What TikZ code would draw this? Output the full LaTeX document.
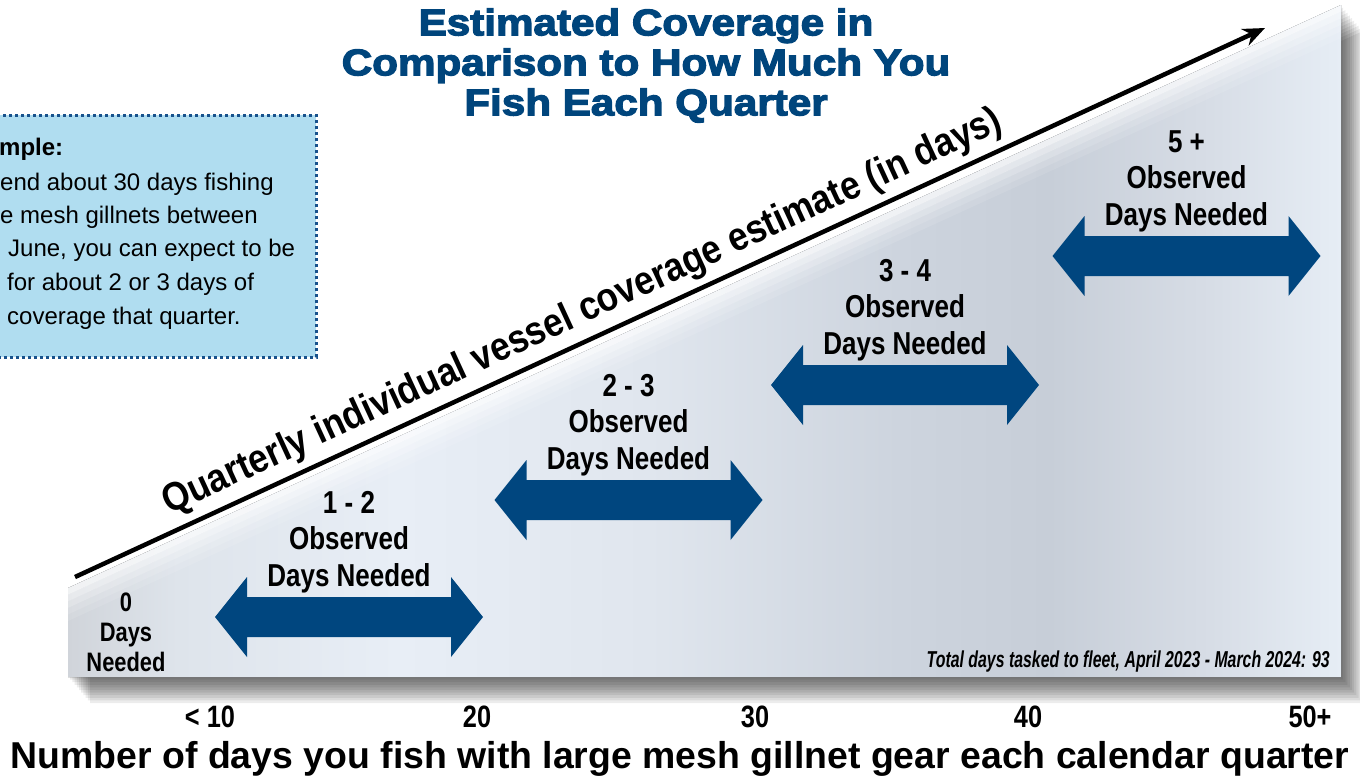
\documentclass[tikz,border=0pt]{standalone}
\usepackage{fontspec}
\setmainfont{Liberation Sans}
\newfontfamily\narrowfont[FakeStretch=0.82]{Liberation Sans}
\newfontfamily\slimfont[FakeStretch=0.69]{Liberation Sans}
\newfontfamily\diagfont[FakeStretch=0.88]{Liberation Sans}
\newfontfamily\titlefont[FakeStretch=1.14,FakeBold=3.5]{Liberation Sans}
\usetikzlibrary{arrows.meta}
\definecolor{navy}{RGB}{0,70,127}
\definecolor{titleblue}{RGB}{0,69,124}
\definecolor{boxfill}{RGB}{176,221,240}
\definecolor{boxline}{RGB}{24,82,140}
\definecolor{g0}{RGB}{208,212,218}
\definecolor{g1}{RGB}{222,228,235}
\definecolor{g2}{RGB}{232,238,246}
\definecolor{g3}{RGB}{224,230,238}
\definecolor{g4}{RGB}{205,212,222}
\definecolor{g5}{RGB}{199,206,216}
\definecolor{g6}{RGB}{214,220,229}
\definecolor{g7}{RGB}{230,237,245}
\pgfdeclarehorizontalshading{bgshade}{100bp}{color(0bp)=(g0); color(25bp)=(g0); color(29.3bp)=(g1); color(38bp)=(g2); color(47.8bp)=(g3); color(57.6bp)=(g4); color(63.5bp)=(g5); color(69.5bp)=(g6); color(75bp)=(g7); color(100bp)=(g7)}
\tikzset{
  lbl/.style={font=\narrowfont\bfseries\fontsize{31.7}{36.5}\selectfont, align=center, inner sep=0pt},
  axislbl/.style={font=\narrowfont\bfseries\fontsize{30.9}{34}\selectfont, inner sep=0pt, anchor=base},
  boxtxt/.style={font=\fontsize{24}{28}\selectfont, inner sep=0pt, anchor=base west},
  exbox/.style={draw=boxline, fill=boxfill, line width=3pt, dash pattern=on 3pt off 3pt, inner sep=0pt},
  pics/dbl/.style={code={\fill[navy] (-134,0) -- (-102,-40) -- (-102,-20) -- (102,-20) -- (102,-40) -- (134,0) -- (102,40) -- (102,20) -- (-102,20) -- (-102,40) -- cycle;}}
}
\begin{document}
\begin{tikzpicture}[x=1pt,y=-1pt]
\useasboundingbox (0,0) rectangle (1360,780);
% shadow
\foreach \i in {1,...,10} {
  \fill[black, opacity=0.075] ({68+2.2*\i},{588+2.6*\i}) -- ({1341+2.2*\i},{5+2.6*\i}) -- ({1341+2.2*\i},{677+2.6*\i}) -- ({68+2.2*\i},{677+2.6*\i}) -- cycle;
}
% background wedge
\fill[shading=bgshade] (68,588) -- (1341,5) -- (1341,677) -- (68,677) -- cycle;
\begin{scope}
  \clip (68,588) -- (1341,5) -- (1341,677) -- (68,677) -- cycle;
  \foreach \d/\o in {3/0.7,9/0.5,15/0.35,21/0.2,27/0.1} {
    \draw[white, line width=6pt, opacity=\o] ({68+0.416*\d-40},{588+0.909*\d+18.3}) -- ({1341+0.416*\d+40},{5+0.909*\d-18.3});
  }
\end{scope}
% title
\node[font=\titlefont\bfseries\fontsize{37}{40}\selectfont, text=titleblue, align=center, inner sep=0pt] (title) at (646,65.5) {Estimated Coverage in\\Comparison to How Much You\\Fish Each Quarter};
% example box
\node[exbox, minimum width=330pt, minimum height=242pt] (box) at (151,236) {};
\node[boxtxt, font=\bfseries\fontsize{24}{28}\selectfont] (b0) at (-1,155) {mple:};
\node[boxtxt] (b1) at (0,190.7) {end about 30 days fishing};
\node[boxtxt] (b2) at (0,223.5) {e mesh gillnets between};
\node[boxtxt] (b3) at (8,256.7) {June, you can expect to be};
\node[boxtxt] (b4) at (7,290.5) {for about 2 or 3 days of};
\node[boxtxt] (b5) at (7,324) {coverage that quarter.};
% main diagonal arrow
\coordinate (as) at (75,577);
\coordinate (ae) at (1265,28);
\draw[line width=4.5pt, -{Stealth[length=22pt,width=18pt]}] (as) -- (ae);
\node[font=\diagfont\bfseries\fontsize{40}{42}\selectfont, rotate=24.77, anchor=base, inner sep=0pt] (qtext) at (587,322) {Quarterly individual vessel coverage estimate (in days)};
% double arrows and labels
\pic (a1) at (349,617) {dbl};
\pic (a2) at (628.5,500) {dbl};
\pic (a3) at (905,385) {dbl};
\pic (a4) at (1186.5,256) {dbl};
\node[lbl] (l1) at (349,542) {1 - 2\\Observed\\Days Needed};
\node[lbl] (l2) at (628.5,425) {2 - 3\\Observed\\Days Needed};
\node[lbl] (l3) at (905,310) {3 - 4\\Observed\\Days Needed};
\node[lbl] (l4) at (1186.5,181) {5 +\\Observed\\Days Needed};
\node[font=\narrowfont\bfseries\fontsize{26.7}{30}\selectfont, align=center, inner sep=0pt] (l0) at (126,632) {0\\Days\\Needed};
\node[font=\slimfont\bfseries\itshape\fontsize{23}{26}\selectfont, anchor=base east, inner sep=0pt] (total) at (1330,667) {Total days tasked to fleet, April 2023 - March 2024: 93};
% axis labels
\node[axislbl] (x1) at (210,727) {< 10};
\node[axislbl] (x2) at (477,727) {20};
\node[axislbl] (x3) at (755,727) {30};
\node[axislbl] (x4) at (1028,727) {40};
\node[axislbl] (x5) at (1310,727) {50+};
\node[font=\bfseries\fontsize{37.4}{40}\selectfont, anchor=base, inner sep=0pt] (xtitle) at (680,768) {Number of days you fish with large mesh gillnet gear each calendar quarter};
\end{tikzpicture}
\end{document}
